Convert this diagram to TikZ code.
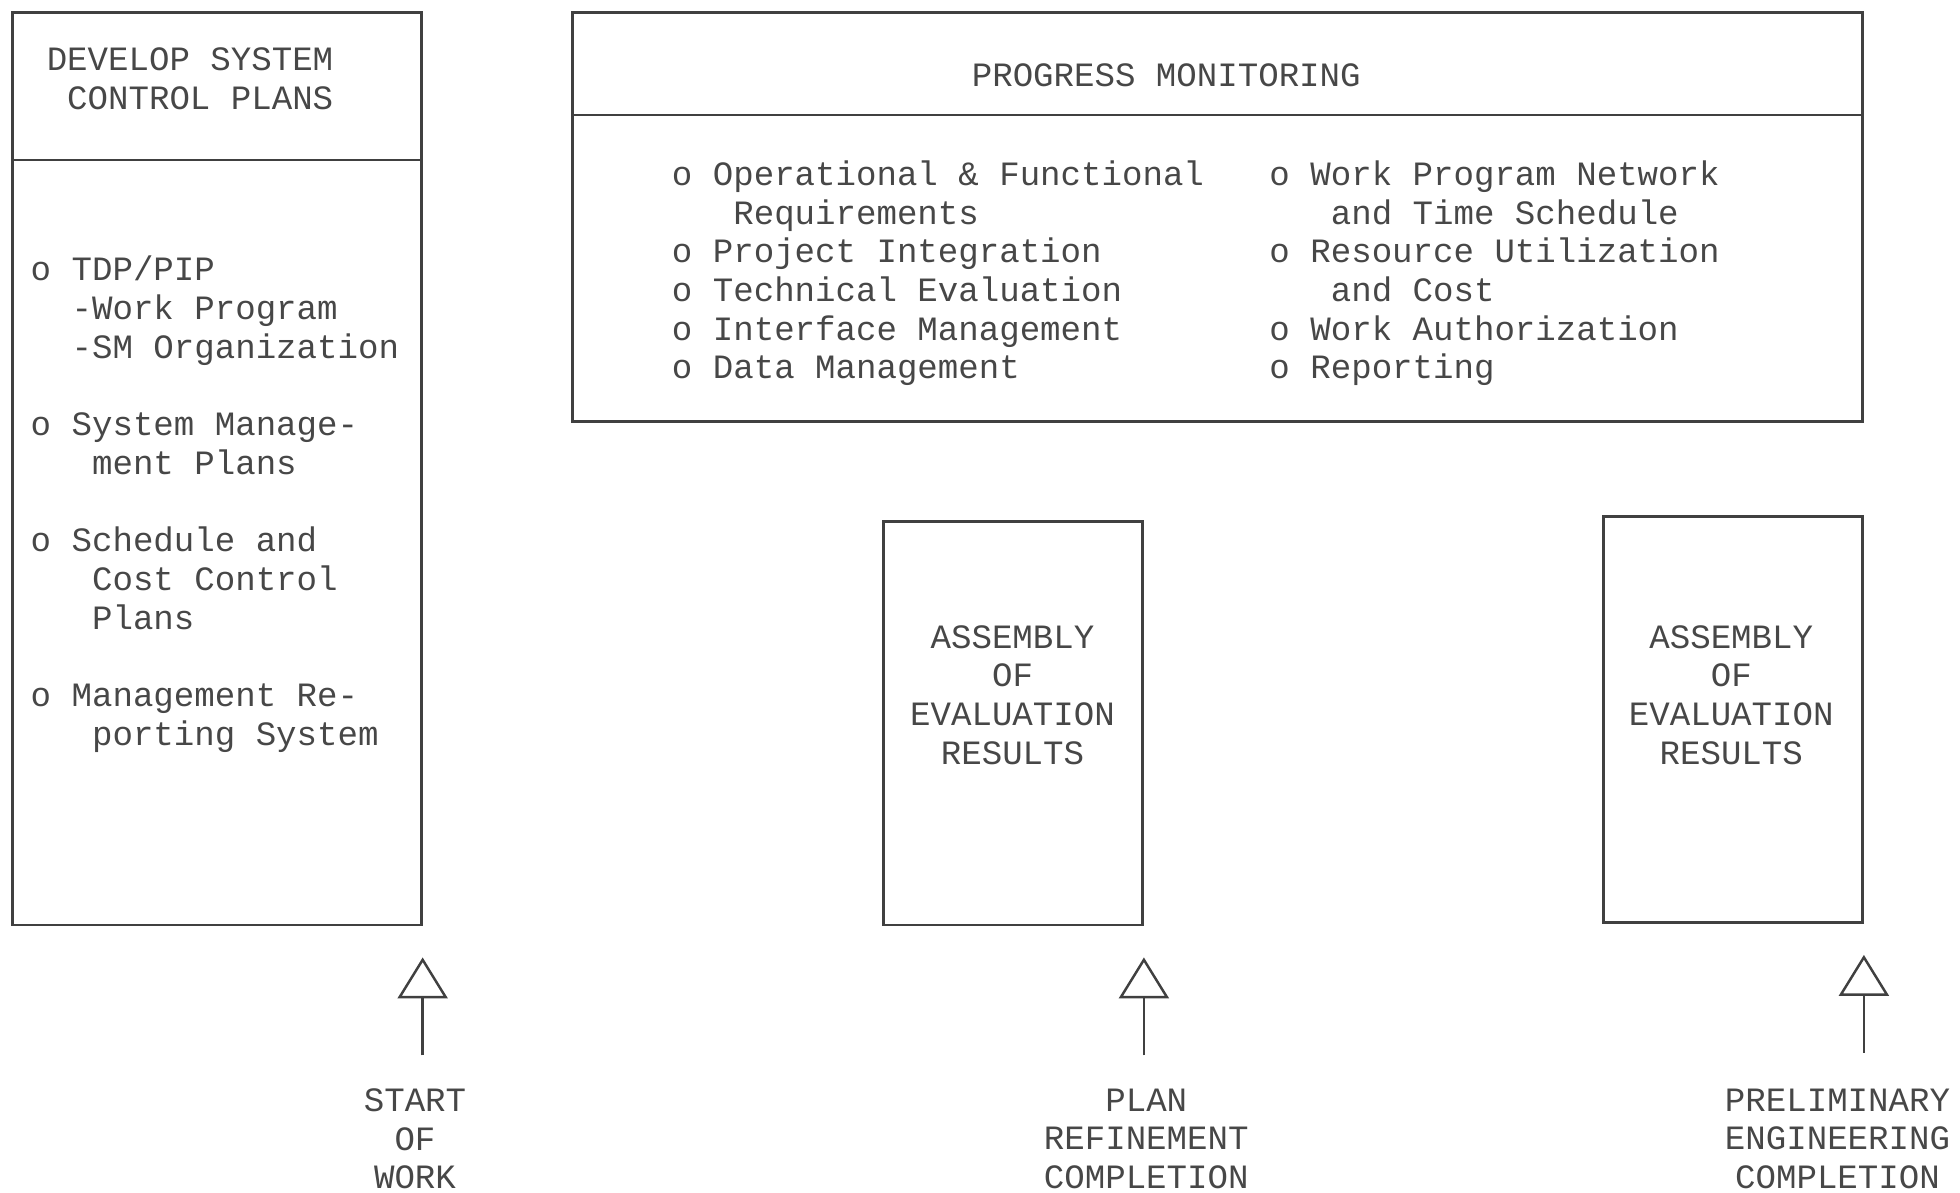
\documentclass[tikz,border=0pt]{standalone}
\usepackage{fontspec}
\setmainfont{Liberation Mono}
\usetikzlibrary{arrows.meta, calc, positioning, fit}

\tikzset{
  panel/.style={draw=black!75, line width=0.8pt, inner sep=0pt},
  typed/.style={text=black!72, inner sep=0pt, align=left, font=\fontsize{9.7}{11}\selectfont},
  typedc/.style={typed, align=center},
  milestone/.style={draw=black!75, line width=0.7pt, -{Triangle[open, width=5mm, length=4.1mm]}}
}

\begin{document}
\begin{tikzpicture}[x=0.0125cm, y=-0.0125cm]
        \useasboundingbox (0,0) rectangle (1568,954);

        % Develop system control plans
        \node[panel, fit={(10,10) (337,740)}] (plans) {};
        \draw[black!75, line width=0.8pt] (plans.west |- 0,128) -- (plans.east |- 0,128);
        \node[typed] (planstitle) at (152,63) {DEVELOP SYSTEM\\~CONTROL PLANS};
        % base = baseline of the last line
        \node[typed, anchor=base west] (planslist) at (24,596)
          {o TDP/PIP\\~~-Work Program\\~~-SM Organization\\[11pt]
           o System Manage-\\~~~ment Plans\\[11pt]
           o Schedule and\\~~~Cost Control\\~~~Plans\\[11pt]
           o Management Re-\\~~~porting System};

        % Progress monitoring
        \node[panel, fit={(458,10) (1490,337)}] (progress) {};
        \draw[black!75, line width=0.8pt] (progress.west |- 0,92) -- (progress.east |- 0,92);
        \node[typed] (progresstitle) at (933,60) {PROGRESS MONITORING};
        \node[typed, anchor=base west] (progressleft) at (537,303)
          {o Operational \& Functional\\~~~Requirements\\o Project Integration\\
           o Technical Evaluation\\o Interface Management\\o Data Management};
        \node[typed, anchor=base west] (progressright) at (1015,303)
          {o Work Program Network\\~~~and Time Schedule\\o Resource Utilization\\
           ~~~and Cost\\o Work Authorization\\o Reporting};

        % Assembly of evaluation results
        \node[panel, fit={(707,417) (914,740)}] (assemblyA) {};
        \node[typedc] (assemblyAtext) at (810,556) {ASSEMBLY\\OF\\EVALUATION\\RESULTS};
        \node[panel, fit={(1283,413) (1490,738)}] (assemblyB) {};
        \node[typedc] (assemblyBtext) at (1385,556) {ASSEMBLY\\OF\\EVALUATION\\RESULTS};

        % Milestones
        \draw[milestone] ([yshift=-1.29cm]plans.south east) -- ([yshift=-0.31cm]plans.south east);
        \node[typedc] (startwork) at (332,911) {START\\OF\\WORK};

        \draw[milestone] ([yshift=-1.29cm]assemblyA.south east) -- ([yshift=-0.31cm]assemblyA.south east);
        \node[typedc] (planrefine) at (917,911) {PLAN\\REFINEMENT\\COMPLETION};

        \draw[milestone] ([yshift=-1.29cm]assemblyB.south east) -- ([yshift=-0.31cm]assemblyB.south east);
        \node[typedc] (prelimeng) at (1470,911) {PRELIMINARY\\ENGINEERING\\COMPLETION};

    \end{tikzpicture}
\end{document}
